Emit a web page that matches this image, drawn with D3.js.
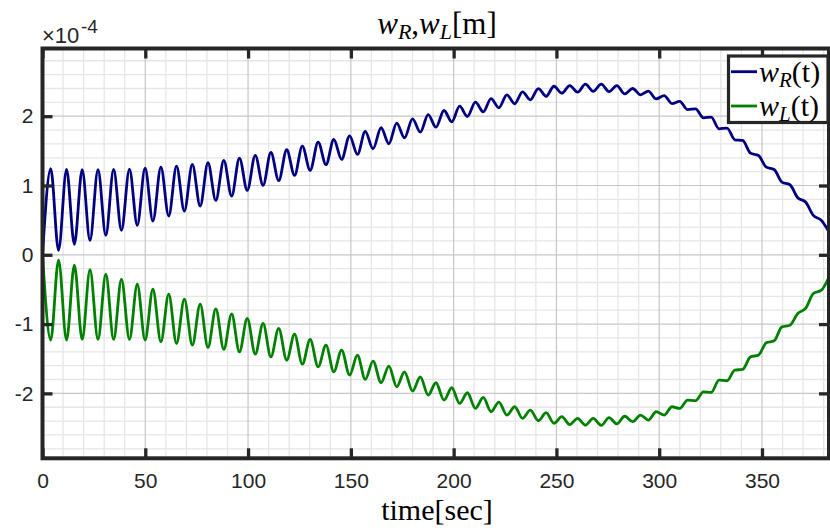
<!DOCTYPE html>
<html><head><meta charset="utf-8">
<script src="https://cdn.jsdelivr.net/npm/d3@7"></script>
<style>body{margin:0;background:#fff}svg{display:block}</style>
</head><body>
<svg id="c" width="830" height="532"></svg>
<script>
// time samples (sec) at the extrema
const time = [0,
4.0, 7.8, 11.7, 15.5, 19.3, 23.1, 27.0, 30.8, 34.6, 38.4, 42.3, 46.1, 49.9, 53.7, 57.6, 61.4, 65.2, 69.0, 72.9, 76.7,
80.5, 84.3, 88.2, 92.0, 95.8, 99.6, 103.5, 107.3, 111.1, 114.9, 118.8, 122.6, 126.4, 130.2, 134.1, 137.9, 141.7, 145.5,
149.4, 153.2, 157.0, 160.8, 164.7, 168.5, 172.3, 176.1, 180.0, 183.8, 187.6, 191.4, 195.3, 199.1, 202.9, 206.7, 210.6,
214.4, 218.2, 222.0, 225.9, 229.7, 233.5, 237.3, 241.2, 245.0, 248.8, 252.6, 256.5, 260.3, 264.1, 267.9, 271.8, 275.6,
279.4, 283.2, 287.1, 290.9, 294.7, 298.5, 302.4, 306.2, 310.0, 313.8, 317.7, 321.5, 325.3, 329.1, 333.0, 336.8, 340.6,
344.4, 348.3, 352.1, 355.9, 359.7, 363.6, 367.4, 371.2, 375.0, 378.9, 382.6];

// w_R(t) in units of 1e-4 m
const wR = [0,
1.242, 0.065, 1.232, 0.151, 1.228, 0.209, 1.228, 0.281, 1.232, 0.353, 1.236, 0.425, 1.251, 0.487, 1.265, 0.559,
1.280, 0.631, 1.304, 0.703, 1.328, 0.785, 1.362, 0.847, 1.395, 0.929, 1.434, 1.001, 1.477, 1.070,
1.516, 1.146, 1.568, 1.218, 1.626, 1.300, 1.664, 1.376, 1.717, 1.448, 1.780, 1.530, 1.833, 1.602, 1.900, 1.689,
1.962, 1.770, 2.024, 1.841, 2.082, 1.919, 2.144, 1.996, 2.202, 2.063, 2.255, 2.121, 2.308, 2.179, 2.352, 2.236,
2.399, 2.288, 2.432, 2.332, 2.442, 2.346, 2.462, 2.358, 2.462, 2.355, 2.442, 2.322, 2.400, 2.308, 2.362, 2.250,
2.298, 2.182, 2.215, 2.095, 2.107, 1.977, 1.986, 1.818, 1.828, 1.660, 1.650, 1.467, 1.434, 1.265, 1.232, 1.049,
1.011, 0.824, 0.761, 0.569, 0.497, 0.329];

// w_L(t) in units of 1e-4 m
const wL = [0,
-1.232, -0.079, -1.232, -0.151, -1.222, -0.214, -1.222, -0.281, -1.222, -0.353, -1.222, -0.425, -1.232, -0.497,
-1.256, -0.569, -1.280, -0.641, -1.304, -0.713, -1.337, -0.781, -1.366, -0.853, -1.401, -0.919, -1.434, -0.991,
-1.473, -1.063, -1.520, -1.146, -1.578, -1.222, -1.617, -1.304, -1.689, -1.376, -1.736, -1.448, -1.799, -1.535,
-1.847, -1.607, -1.905, -1.689, -1.967, -1.761, -2.024, -1.847, -2.097, -1.919, -2.145, -1.991, -2.217, -2.058,
-2.265, -2.125, -2.313, -2.193, -2.360, -2.241, -2.395, -2.279, -2.432, -2.337, -2.450, -2.360, -2.460, -2.360,
-2.460, -2.350, -2.440, -2.330, -2.409, -2.313, -2.385, -2.265, -2.313, -2.193, -2.217, -2.097, -2.106, -1.977,
-1.986, -1.808, -1.818, -1.664, -1.654, -1.473, -1.448, -1.271, -1.242, -1.040, -1.016, -0.847, -0.775, -0.559,
-0.511, -0.320];

const xTicks = [0, 50, 100, 150, 200, 250, 300, 350];
const yTicks = [-2, -1, 0, 1, 2];
const yTickLabels = ["-2", "-1", "0", "1", "2"];
const seriesNames = ["R", "L"];
const seriesColors = ["#000080", "#008000"];
const seriesValues = [wR, wL];

const svg = d3.select("#c");
const L = 42.5, Rr = 829, T = 48.5, B = 458.3;
const x = d3.scaleLinear().domain([0, 382.6]).range([L, Rr]);
const y = d3.scaleLinear().domain([-2.937, 2.977]).range([B, T]);
const axisColor = "#262626";

svg.append("rect").attr("x", L).attr("y", T).attr("width", Rr - L).attr("height", B - T).attr("fill", "#fff");

// minor grid
const gMin = svg.append("g");
gMin.selectAll("line.vx").data(d3.range(10, 383, 10).filter(v => v % 50 !== 0)).join("line")
  .attr("x1", d => x(d)).attr("x2", d => x(d)).attr("y1", T).attr("y2", B)
  .attr("stroke", "#e6e6e6").attr("stroke-width", 1.3);
gMin.selectAll("line.hy").data(d3.range(-28, 30, 2).filter(v => v % 10 !== 0).map(v => v / 10)).join("line")
  .attr("y1", d => y(d)).attr("y2", d => y(d)).attr("x1", L).attr("x2", Rr)
  .attr("stroke", "#e6e6e6").attr("stroke-width", 1.3);
// major grid
const gMaj = svg.append("g");
gMaj.selectAll("line.vx").data(xTicks).join("line")
  .attr("x1", d => x(d)).attr("x2", d => x(d)).attr("y1", T).attr("y2", B)
  .attr("stroke", "#c6c6c6").attr("stroke-width", 1.2);
gMaj.selectAll("line.hy").data(yTicks).join("line")
  .attr("y1", d => y(d)).attr("y2", d => y(d)).attr("x1", L).attr("x2", Rr)
  .attr("stroke", "#c6c6c6").attr("stroke-width", 1.2);

// curves
svg.append("clipPath").attr("id", "clip").append("rect")
  .attr("x", L).attr("y", T).attr("width", Rr - L).attr("height", B - T);
const line = d3.line().x((d, i) => x(time[i])).y(d => y(d)).curve(d3.curveMonotoneX);
svg.append("g").attr("clip-path", "url(#clip)").selectAll("path").data(seriesValues).join("path")
  .attr("d", d => line(d)).attr("fill", "none")
  .attr("stroke", (d, i) => seriesColors[i]).attr("stroke-width", 2.8).attr("stroke-linejoin", "round");

// axes
const tickFont = "'Liberation Sans', Arial, Helvetica, sans-serif";
function styleAxis(g) {
  g.select(".domain").remove();
  g.selectAll(".tick line").attr("stroke", axisColor).attr("stroke-width", 3.3);
  g.selectAll(".tick text").attr("fill", axisColor).style("font-family", tickFont).style("font-size", "21px");
}
svg.append("g").attr("transform", `translate(0,${B})`)
  .call(d3.axisBottom(x).tickValues(xTicks).tickFormat(d => String(d)).tickSize(-10).tickSizeOuter(0).tickPadding(15))
  .call(styleAxis);
svg.append("g").attr("transform", `translate(0,${T})`)
  .call(d3.axisTop(x).tickValues(xTicks).tickFormat("").tickSize(-10).tickSizeOuter(0))
  .call(styleAxis);
svg.append("g").attr("transform", `translate(${L},0)`)
  .call(d3.axisLeft(y).tickValues(yTicks).tickFormat((d, i) => yTickLabels[i]).tickSize(-10).tickSizeOuter(0).tickPadding(9))
  .call(styleAxis);
svg.append("g").attr("transform", `translate(${Rr},0)`)
  .call(d3.axisRight(y).tickValues(yTicks).tickFormat("").tickSize(-10).tickSizeOuter(0))
  .call(styleAxis);
svg.append("rect").attr("x", L).attr("y", T).attr("width", Rr - L).attr("height", B - T)
  .attr("fill", "none").attr("stroke", axisColor).attr("stroke-width", 4);

// exponent label (x10^-4)
svg.append("text").attr("x", 42).attr("y", 43).attr("fill", axisColor)
  .attr("font-family", tickFont).attr("font-size", 22).text("\u00d710");
svg.append("text").attr("x", 81).attr("y", 33).attr("fill", axisColor)
  .attr("font-family", tickFont).attr("font-size", 19).text("-4");

// title and labels
const serif = "'Liberation Serif', 'Times New Roman', serif";
const title = svg.append("text").attr("x", 437).attr("y", 34).attr("text-anchor", "middle")
  .attr("fill", "#000").style("font-family", serif).style("font-size", "31px");
title.append("tspan").style("font-style", "italic").text("w");
title.append("tspan").style("font-style", "italic").style("font-size", "22px").attr("dy", 5).text("R");
title.append("tspan").attr("dy", -5).text(",");
title.append("tspan").style("font-style", "italic").text("w");
title.append("tspan").style("font-style", "italic").style("font-size", "22px").attr("dy", 5).text("L");
title.append("tspan").attr("dy", -5).text("[m]");

svg.append("text").attr("x", 437).attr("y", 520).attr("text-anchor", "middle")
  .attr("fill", "#000").style("font-family", serif).style("font-size", "30px").text("time[sec]");

// legend
const lg = svg.append("g");
lg.append("rect").attr("x", 728.5).attr("y", 56).attr("width", 99.5).attr("height", 66.5)
  .attr("fill", "#fff").attr("stroke", axisColor).attr("stroke-width", 3.2);
seriesNames.forEach((n, i) => {
  const yy = 71.7 + i * 34.3;
  lg.append("line").attr("x1", 731).attr("x2", 757).attr("y1", yy).attr("y2", yy)
    .attr("stroke", seriesColors[i]).attr("stroke-width", 2.8);
  const t = lg.append("text").attr("x", 759).attr("y", yy + 10).attr("fill", "#000")
    .style("font-family", serif).style("font-size", "30px");
  t.append("tspan").style("font-style", "italic").text("w");
  t.append("tspan").style("font-style", "italic").style("font-size", "21px").attr("dy", 5).text(n);
  t.append("tspan").attr("dy", -5).text("(t)");
});
</script>
</body></html>
